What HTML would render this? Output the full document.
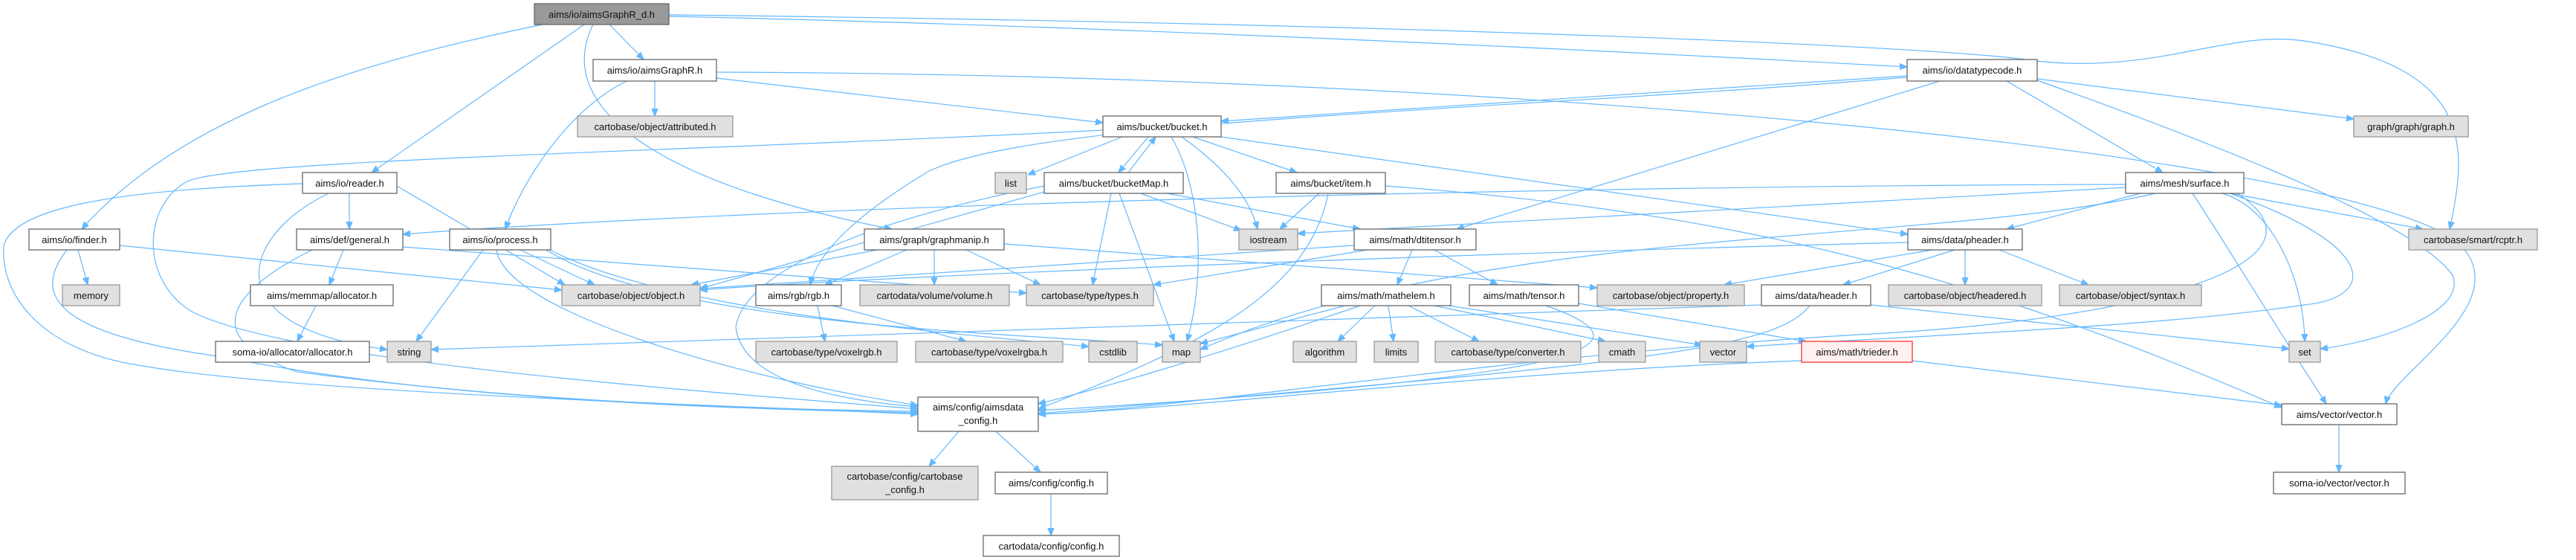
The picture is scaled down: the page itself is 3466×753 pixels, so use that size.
<!DOCTYPE html>
<html><head><meta charset="utf-8"><style>
html,body{margin:0;padding:0;background:#fff;}
svg{display:block;}
.n{fill:#fff;stroke:#666;stroke-width:1.3;}
.g{fill:#e0e0e0;stroke:#999;stroke-width:1.3;}
.m{fill:#999;stroke:#666;stroke-width:1.3;}
.r{fill:#fff0f0;stroke:#f33;stroke-width:1.3;}
text{font-family:"Liberation Sans",sans-serif;font-size:13px;fill:#111;text-anchor:middle;}
path{fill:none;stroke:#63b8ff;stroke-width:1.2;}
</style></head><body>
<svg width="3466" height="753" viewBox="0 0 3466 753" xmlns="http://www.w3.org/2000/svg">
<defs><marker id="a" viewBox="0 0 10 10" refX="10" refY="5" markerWidth="10" markerHeight="10" markerUnits="userSpaceOnUse" orient="auto"><path d="M0,1 L10,5 L0,9 z" style="fill:#63b8ff;stroke:#63b8ff"/></marker></defs>
<g marker-end="url(#a)">
<path d="M820,33 L866,80"/>
<path d="M900,22 C1500,35 2200,70 2566,90"/>
<path d="M786,33 L500,232"/>
<path d="M730,33 C500,80 250,150 110,308"/>
<path d="M798,33 C740,150 900,250 1200,308"/>
<path d="M900,20 C1800,30 2600,60 2740,82 C2900,100 3000,40 3100,55 C3330,90 3320,200 3296,308"/>
<path d="M881,109 L881,156"/>
<path d="M964,105 L1484,165"/>
<path d="M843,109 C760,150 700,250 680,308"/>
<path d="M964,97 C2000,100 3100,200 3300,320 C3400,400 3220,500 3210,543"/>
<path d="M2741,108 C3000,200 3250,300 3300,370 C3320,420 3200,460 3122,469"/>
<path d="M2566,102 L1643,163"/>
<path d="M2741,106 L3167,160"/>
<path d="M2700,109 L2910,232"/>
<path d="M2610,109 L1960,308"/>
<path d="M2566,104 C2000,150 1400,160 1250,230 C1150,290 1100,340 1090,383"/>
<path d="M1510,184 L1383,235"/>
<path d="M1545,184 L1505,232"/>
<path d="M1518,232 L1555,184"/>
<path d="M1590,184 C1640,220 1680,260 1692,308"/>
<path d="M1605,184 L1745,232"/>
<path d="M1576,184 C1620,260 1620,380 1597,459"/>
<path d="M1643,184 L2567,315"/>
<path d="M1484,175 C900,205 300,215 250,245 C190,280 190,380 260,420 C400,490 1000,530 1235,550"/>
<path d="M1405,258 L942,388"/>
<path d="M1495,260 L1470,383"/>
<path d="M1506,260 L1580,459"/>
<path d="M1535,260 L1670,310"/>
<path d="M1570,260 L1830,308"/>
<path d="M1405,250 C1150,300 1000,370 990,440 C1000,520 1150,540 1235,547"/>
<path d="M1775,260 L1722,308"/>
<path d="M1787,260 C1760,400 1600,470 1397,550"/>
<path d="M1864,250 C2400,290 2700,390 3070,548"/>
<path d="M2860,248 C2000,250 1000,280 542,315"/>
<path d="M2860,252 L1746,314"/>
<path d="M2880,260 L2700,308"/>
<path d="M3000,260 L3260,308"/>
<path d="M2990,260 C3060,280 3100,380 3101,459"/>
<path d="M2950,260 C2990,320 3050,420 3130,543"/>
<path d="M3000,260 C3200,330 3200,400 3100,410 C2900,440 2600,450 2350,466"/>
<path d="M2900,260 C2600,330 2000,300 1615,470"/>
<path d="M3010,260 C3150,350 2900,430 2500,450 C2000,480 1600,550 1397,557"/>
<path d="M470,260 L470,308"/>
<path d="M534,250 L760,383"/>
<path d="M442,260 C320,320 290,440 521,470"/>
<path d="M407,247 C150,255 20,280 5,330 C0,400 60,470 180,490 C400,530 1000,545 1235,557"/>
<path d="M105,336 L118,383"/>
<path d="M161,330 L756,390"/>
<path d="M90,336 C40,400 80,450 300,480 C600,540 1000,550 1235,555"/>
<path d="M462,336 L443,383"/>
<path d="M542,332 L1381,394"/>
<path d="M420,336 C330,380 250,450 400,500 C700,540 1000,550 1235,553"/>
<path d="M425,411 L400,459"/>
<path d="M700,336 L800,383"/>
<path d="M650,336 L560,459"/>
<path d="M740,336 C900,420 1300,450 1465,466"/>
<path d="M735,336 C900,440 1400,450 1564,464"/>
<path d="M668,336 C680,420 1000,510 1235,545"/>
<path d="M1180,336 L930,383"/>
<path d="M1220,336 L1110,383"/>
<path d="M1257,336 L1257,383"/>
<path d="M1300,336 L1400,383"/>
<path d="M1351,328 L2149,387"/>
<path d="M1840,336 L1552,383"/>
<path d="M1900,336 L1880,383"/>
<path d="M1930,336 L2015,383"/>
<path d="M1822,330 L942,388"/>
<path d="M1850,411 L1800,459"/>
<path d="M1868,411 L1875,459"/>
<path d="M1895,411 L1990,459"/>
<path d="M1930,411 L2160,459"/>
<path d="M1950,411 L2290,464"/>
<path d="M1810,411 L1615,462"/>
<path d="M2370,410 C1800,430 1000,455 580,470"/>
<path d="M1830,411 C1600,490 1450,530 1397,543"/>
<path d="M2124,408 L2430,459"/>
<path d="M2080,411 C2250,470 2100,510 1397,552"/>
<path d="M2600,336 L2320,383"/>
<path d="M2630,336 L2480,383"/>
<path d="M2644,336 L2644,383"/>
<path d="M2690,336 L2810,383"/>
<path d="M2567,326 C2000,340 1200,370 942,390"/>
<path d="M2517,410 L3080,469"/>
<path d="M2435,411 C2390,470 2200,490 1397,556"/>
<path d="M2573,485 L3070,545"/>
<path d="M2424,485 C2000,500 1600,550 1397,557"/>
<path d="M1100,411 L1110,459"/>
<path d="M1120,411 L1300,459"/>
<path d="M1290,580 L1250,627"/>
<path d="M1340,580 L1400,635"/>
<path d="M1414,664 L1414,720"/>
<path d="M3147,571 L3147,635"/>
</g>
<g>
<rect class="m" x="719" y="5" width="181" height="28"/><text x="809.5" y="24">aims/io/aimsGraphR_d.h</text>
<rect class="n" x="798" y="80" width="166" height="29"/><text x="881" y="99">aims/io/aimsGraphR.h</text>
<rect class="n" x="2566" y="80" width="175" height="29"/><text x="2653.5" y="99">aims/io/datatypecode.h</text>
<rect class="g" x="777" y="156" width="209" height="28"/><text x="881.5" y="175">cartobase/object/attributed.h</text>
<rect class="n" x="1484" y="156" width="159" height="28"/><text x="1563.5" y="175">aims/bucket/bucket.h</text>
<rect class="g" x="3167" y="156" width="154" height="28"/><text x="3244" y="175">graph/graph/graph.h</text>
<rect class="n" x="407" y="232" width="127" height="28"/><text x="470.5" y="251">aims/io/reader.h</text>
<rect class="g" x="1339" y="232" width="42" height="28"/><text x="1360" y="251">list</text>
<rect class="n" x="1405" y="232" width="187" height="28"/><text x="1498.5" y="251">aims/bucket/bucketMap.h</text>
<rect class="n" x="1717" y="232" width="147" height="28"/><text x="1790.5" y="251">aims/bucket/item.h</text>
<rect class="n" x="2860" y="232" width="159" height="28"/><text x="2939.5" y="251">aims/mesh/surface.h</text>
<rect class="n" x="39" y="308" width="122" height="28"/><text x="100" y="327">aims/io/finder.h</text>
<rect class="n" x="399" y="308" width="143" height="28"/><text x="470.5" y="327">aims/def/general.h</text>
<rect class="n" x="605" y="308" width="136" height="28"/><text x="673" y="327">aims/io/process.h</text>
<rect class="n" x="1163" y="308" width="188" height="28"/><text x="1257" y="327">aims/graph/graphmanip.h</text>
<rect class="g" x="1667" y="308" width="79" height="28"/><text x="1706.5" y="327">iostream</text>
<rect class="n" x="1822" y="308" width="164" height="28"/><text x="1904" y="327">aims/math/dtitensor.h</text>
<rect class="n" x="2567" y="308" width="154" height="28"/><text x="2644" y="327">aims/data/pheader.h</text>
<rect class="g" x="3241" y="308" width="173" height="28"/><text x="3327.5" y="327">cartobase/smart/rcptr.h</text>
<rect class="g" x="84" y="383" width="77" height="28"/><text x="122.5" y="402">memory</text>
<rect class="n" x="337" y="383" width="192" height="28"/><text x="433" y="402">aims/memmap/allocator.h</text>
<rect class="g" x="756" y="383" width="186" height="28"/><text x="849" y="402">cartobase/object/object.h</text>
<rect class="n" x="1017" y="383" width="115" height="28"/><text x="1074.5" y="402">aims/rgb/rgb.h</text>
<rect class="g" x="1157" y="383" width="201" height="28"/><text x="1257.5" y="402">cartodata/volume/volume.h</text>
<rect class="g" x="1381" y="383" width="171" height="28"/><text x="1466.5" y="402">cartobase/type/types.h</text>
<rect class="n" x="1778" y="383" width="174" height="28"/><text x="1865" y="402">aims/math/mathelem.h</text>
<rect class="n" x="1977" y="383" width="147" height="28"/><text x="2050.5" y="402">aims/math/tensor.h</text>
<rect class="g" x="2149" y="383" width="198" height="28"/><text x="2248" y="402">cartobase/object/property.h</text>
<rect class="n" x="2370" y="383" width="147" height="28"/><text x="2443.5" y="402">aims/data/header.h</text>
<rect class="g" x="2541" y="383" width="206" height="28"/><text x="2644" y="402">cartobase/object/headered.h</text>
<rect class="g" x="2771" y="383" width="191" height="28"/><text x="2866.5" y="402">cartobase/object/syntax.h</text>
<rect class="n" x="290" y="459" width="207" height="28"/><text x="393.5" y="478">soma-io/allocator/allocator.h</text>
<rect class="g" x="521" y="459" width="59" height="28"/><text x="550.5" y="478">string</text>
<rect class="g" x="1017" y="459" width="190" height="28"/><text x="1112" y="478">cartobase/type/voxelrgb.h</text>
<rect class="g" x="1232" y="459" width="198" height="28"/><text x="1331" y="478">cartobase/type/voxelrgba.h</text>
<rect class="g" x="1465" y="459" width="65" height="28"/><text x="1497.5" y="478">cstdlib</text>
<rect class="g" x="1564" y="459" width="51" height="28"/><text x="1589.5" y="478">map</text>
<rect class="g" x="1740" y="459" width="85" height="28"/><text x="1782.5" y="478">algorithm</text>
<rect class="g" x="1849" y="459" width="59" height="28"/><text x="1878.5" y="478">limits</text>
<rect class="g" x="1931" y="459" width="196" height="28"/><text x="2029" y="478">cartobase/type/converter.h</text>
<rect class="g" x="2151" y="459" width="63" height="28"/><text x="2182.5" y="478">cmath</text>
<rect class="g" x="2287" y="459" width="63" height="28"/><text x="2318.5" y="478">vector</text>
<rect class="r" x="2424" y="459" width="149" height="28"/><text x="2498.5" y="478">aims/math/trieder.h</text>
<rect class="g" x="3080" y="459" width="42" height="28"/><text x="3101" y="478">set</text>
<rect class="n" x="1235" y="534" width="162" height="46"/><text x="1316" y="552">aims/config/aimsdata</text><text x="1316" y="570">_config.h</text>
<rect class="n" x="3070" y="543" width="155" height="28"/><text x="3147.5" y="562">aims/vector/vector.h</text>
<rect class="g" x="1119" y="627" width="197" height="45"/><text x="1217.5" y="645">cartobase/config/cartobase</text><text x="1217.5" y="663">_config.h</text>
<rect class="n" x="1339" y="635" width="151" height="29"/><text x="1414.5" y="654">aims/config/config.h</text>
<rect class="n" x="3059" y="635" width="177" height="29"/><text x="3147.5" y="654">soma-io/vector/vector.h</text>
<rect class="n" x="1323" y="720" width="183" height="28"/><text x="1414.5" y="739">cartodata/config/config.h</text>
</g>
</svg>
</body></html>
